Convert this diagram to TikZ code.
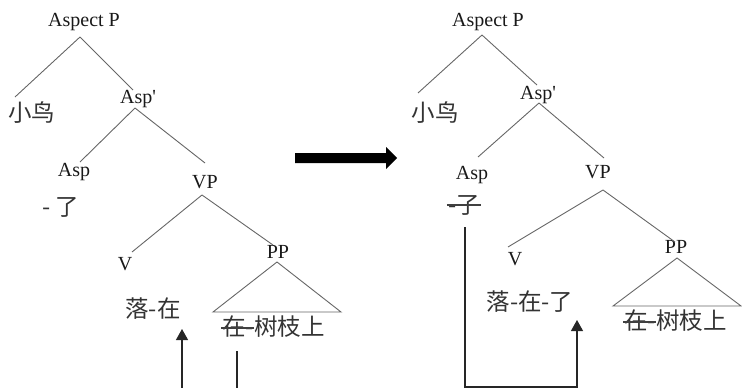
\documentclass[tikz,border=0pt]{standalone}
\usepackage{fontspec}
\setmainfont{Liberation Serif}
\newfontfamily\cjk{Noto Sans CJK SC}
\usetikzlibrary{arrows.meta,calc}
\begin{document}
\begin{tikzpicture}[x=1pt,y=-1pt,
  lbl/.style={font=\fontsize{20}{22}\selectfont, inner sep=1pt, text=black!90},
  zh/.style={font=\cjk\fontsize{23.5}{25}\selectfont, inner sep=0pt, text=black!80},
  br/.style={draw=black!60, line width=0.9pt},
  strike/.style={draw=black!75, line width=1.1pt},
  mv/.style={draw=black!85, line width=1.2pt},
  mvarrow/.style={mv, -{Triangle[width=12pt,length=11pt]}},
  bigarrow/.style={fill=black, draw=none}]
\useasboundingbox (0,0) rectangle (742,388);

% ---------- left tree ----------
\node[lbl] (apL) at (84,22) {Aspect P};
\node[zh]  (xnL) at (32,113) {小鸟};
\node[lbl] (abL) at (138,99) {Asp\textquotesingle};
\node[lbl] (asL) at (74,172) {Asp};
\node[zh]  (leL) at (61,207) {- 了};
\node[lbl] (vpL) at (205,182) {VP};
\node[lbl] (vL)  at (125,264) {V};
\node[lbl] (ppL) at (278,252) {PP};
\node[zh]  (luoL) at (153,309) {落-在};
\node[zh, anchor=west] (zaiL) at (222,327) {在-};
\node[zh, anchor=west] (shuL) at (zaiL.east) {树枝上};

\draw[br] ($(apL)+(-4,15)$) -- ($(xnL)+(-17,-16)$);
\draw[br] ($(apL)+(-4,15)$) -- ($(abL)+(-5,-9)$);
\draw[br] ($(abL)+(-3,9)$) -- ($(asL)+(6,-10)$);
\draw[br] ($(abL)+(-3,9)$) -- ($(vpL)+(0,-19)$);
\draw[br] ($(vpL)+(-3,13)$) -- ($(vL)+(7,-12)$);
\draw[br] ($(vpL)+(-3,13)$) -- ($(ppL)+(-5,-7)$);
\draw[br] ($(ppL)+(-1,10)$) -- ($(ppL)+(-65,60)$) -- ($(ppL)+(63,60)$) -- cycle;
\draw[strike] ($(zaiL.west)+(-1,1)$) -- ($(zaiL.east)+(0,1)$);

\coordinate (botL1) at (182,388);
\coordinate (botL2) at (237,388);
\draw[mvarrow] (botL1) -- ($(luoL)+(29,20)$);
\draw[mv] (botL2 |- {$(zaiL)+(0,24)$}) -- (botL2);

% ---------- big arrow ----------
\fill[bigarrow] (295,153) -- (386,153) -- (386,147) -- (397,158) -- (386,169) -- (386,163) -- (295,163) -- cycle;

% ---------- right tree ----------
\node[lbl] (apR) at (488,22) {Aspect P};
\node[zh]  (xnR) at (435,113) {小鸟};
\node[lbl] (abR) at (538,95) {Asp\textquotesingle};
\node[lbl] (asR) at (472,175) {Asp};
\node[zh]  (leR) at (464,205) {-了};
\node[lbl] (vpR) at (598,172) {VP};
\node[lbl] (vR)  at (515,259) {V};
\node[lbl] (ppR) at (676,247) {PP};
\node[zh]  (luoR) at (530,302) {落-在-了};
\node[zh, anchor=west] (zaiR) at (624,321) {在-};
\node[zh, anchor=west] (shuR) at (zaiR.east) {树枝上};

\draw[br] ($(apR)+(-6,13)$) -- ($(xnR)+(-17,-20)$);
\draw[br] ($(apR)+(-6,13)$) -- ($(abR)+(-1,-10)$);
\draw[br] ($(abR)+(1,8)$) -- ($(asR)+(6,-18)$);
\draw[br] ($(abR)+(1,8)$) -- ($(vpR)+(6,-14)$);
\draw[br] ($(vpR)+(5,18)$) -- ($(vR)+(-7,-12)$);
\draw[br] ($(vpR)+(5,18)$) -- ($(ppR)+(-1,-5)$);
\draw[br] ($(ppR)+(1,11)$) -- ($(ppR)+(-63,59)$) -- ($(ppR)+(65,59)$) -- cycle;
\draw[strike] ($(leR.west)+(-1,0)$) -- ($(leR.east)+(1,0)$);
\draw[strike] ($(zaiR.west)+(-1,1)$) -- ($(zaiR.east)+(0,1)$);

\coordinate (srcR) at ($(leR)+(1,22)$);
\coordinate (tipR) at ($(luoR)+(47,18)$);
\coordinate (botR) at (521,387);
\draw[mvarrow] (srcR) -- (srcR |- botR) -- (tipR |- botR) -- (tipR);
\end{tikzpicture}
\end{document}
